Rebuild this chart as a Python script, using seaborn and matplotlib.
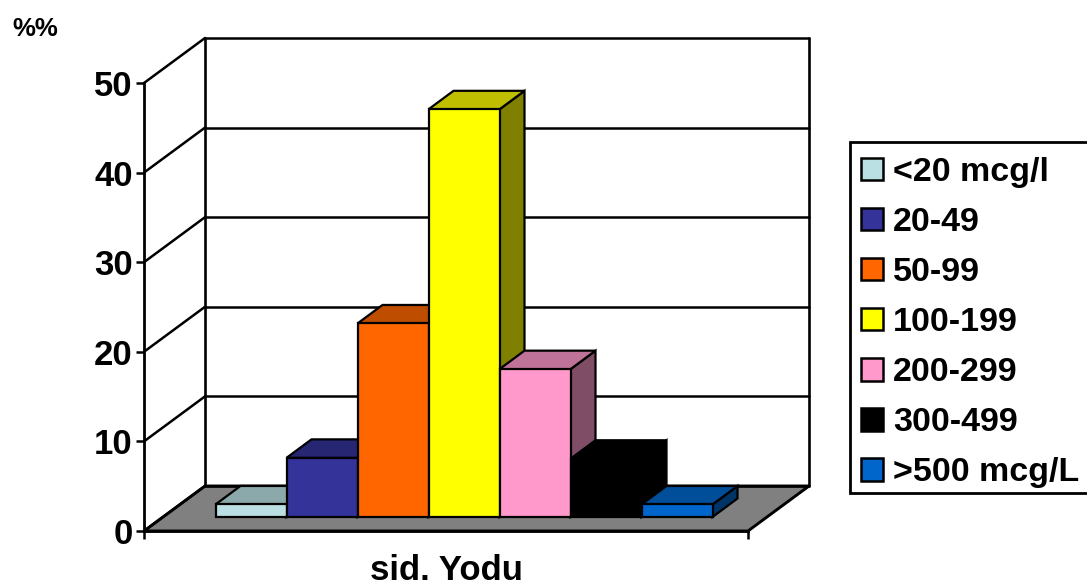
import matplotlib
matplotlib.use("Agg")
import matplotlib.pyplot as plt
from matplotlib.patches import Polygon, Rectangle
import pandas as pd
import seaborn as sns

# Survey values
group = "sid. Yodu"
ranges = ["<20 mcg/l", "20-49", "50-99", "100-199", "200-299", "300-499", ">500 mcg/L"]
values = [1.4, 6.6, 21.6, 45.5, 16.5, 6.5, 1.4]
front_colors = ["#BAE0E3", "#333399", "#FF6600", "#FFFF00", "#FF99CC", "#000000", "#0066CC"]
y_ticks = [0, 10, 20, 30, 40, 50]

W, H = 1087, 584
LINE = "#000000"
FLOOR = "#808080"

sns.set_theme(style="ticks")
plt.rcParams["font.family"] = ["Liberation Sans", "DejaVu Sans"]
plt.rcParams["font.weight"] = "bold"


def shade(color, factor):
    r, g, b = matplotlib.colors.to_rgb(color)
    return (r * factor, g * factor, b * factor)


def px_rect(left, bottom, width, height):
    return [left / W, (H - bottom) / H, width / W, height / H]


fig = plt.figure(figsize=(W / 100, H / 100), dpi=100, facecolor="white")

# Front plane of the box: carries the value axis and the category axis
ax = fig.add_axes(px_rect(144, 531, 604, 448))
ax.set_xlim(0, 1)
ax.set_ylim(0, 50)
ax.patch.set_alpha(0)

wall_dx, wall_dy = 61 / 604, 45 / 448 * 50

# Floor, back wall, gridlines and the left wall's receding lines
ax.add_patch(Polygon([(0, 0), (1, 0), (1 + wall_dx, wall_dy), (wall_dx, wall_dy)],
                     closed=True, facecolor=FLOOR, edgecolor=LINE, linewidth=2.1,
                     clip_on=False, zorder=1))
for t in y_ticks:
    ax.plot([0, wall_dx], [t, t + wall_dy], color=LINE, lw=1.8, clip_on=False, zorder=1.5)
    ax.plot([wall_dx, 1 + wall_dx], [t + wall_dy, t + wall_dy], color=LINE, lw=1.8,
            clip_on=False, zorder=1.5)
ax.plot([wall_dx, wall_dx], [wall_dy, 50 + wall_dy], color=LINE, lw=1.9, clip_on=False, zorder=1.5)
ax.plot([1 + wall_dx, 1 + wall_dx], [wall_dy, 50 + wall_dy], color=LINE, lw=1.9, clip_on=False, zorder=1.5)

ax.set_yticks(y_ticks)
ax.set_xticks([0, 1])
ax.set_xticklabels(["", ""])
ax.tick_params(axis="y", length=5.8, width=1.8, color=LINE, labelsize=25, labelcolor=LINE, pad=2.4)
ax.tick_params(axis="x", length=5.8, width=1.8, color=LINE)
for side in ("top", "right"):
    ax.spines[side].set_visible(False)
for side in ("left", "bottom"):
    ax.spines[side].set_color(LINE)
    ax.spines[side].set_linewidth(2.0)
ax.set_xlabel(group, fontsize=25, fontweight="bold", color=LINE, labelpad=7.5)

# Bars stand a little behind the front edge of the floor
bars_ax = fig.add_axes(px_rect(162, 517, 604, 448), sharey=None)
frame = pd.DataFrame({"group": [group] * len(ranges), "range": ranges, "value": values})
sns.barplot(data=frame, x="group", y="value", hue="range", hue_order=ranges,
            palette=front_colors, saturation=1, width=497 / 604, gap=0, dodge=True,
            edgecolor=LINE, linewidth=1.6, legend=False, ax=bars_ax)
bars_ax.set_xlim(-0.5, 0.5)
bars_ax.set_ylim(0, 50)
bars_ax.axis("off")
bars_ax.patch.set_alpha(0)

depth_x, depth_y = 25 / 604, 18.5 / 448 * 50
bar_patches = [p for c in bars_ax.containers for p in c]
for i, (patch, color) in enumerate(zip(bar_patches, front_colors)):
    x0, w, h = patch.get_x(), patch.get_width(), patch.get_height()
    x1 = x0 + w
    top = [(x0, h), (x1, h), (x1 + depth_x, h + depth_y), (x0 + depth_x, h + depth_y)]
    side = [(x1, 0), (x1 + depth_x, depth_y), (x1 + depth_x, h + depth_y), (x1, h)]
    base_z = 3 + i * 3
    bars_ax.add_patch(Polygon(side, closed=True, facecolor=shade(color, 0.5),
                              edgecolor=LINE, linewidth=1.6, clip_on=False, zorder=base_z))
    bars_ax.add_patch(Polygon(top, closed=True, facecolor=shade(color, 0.75),
                              edgecolor=LINE, linewidth=1.6, clip_on=False, zorder=base_z + 1))
    patch.set_zorder(base_z + 2)
    patch.set_clip_on(False)

# Legend: the frame runs off the right edge of the canvas
fig.add_artist(Rectangle((850 / W, (H - 493) / H), 250 / W, 351 / H, transform=fig.transFigure,
                         facecolor="white", edgecolor=LINE, linewidth=2.0))
handles = [Rectangle((0, 0), 1, 1, facecolor=c, edgecolor=LINE, linewidth=1.8)
           for c in front_colors]
leg = fig.legend(handles, ranges, loc="upper left",
                 bbox_to_anchor=(861 / W, (H - 157) / H), bbox_transform=fig.transFigure,
                 fontsize=24.5, frameon=False,
                 handlelength=0.64, handleheight=0.64, handletextpad=0.3,
                 labelspacing=0.56, borderpad=0, borderaxespad=0, labelcolor=LINE)

fig.text(12 / W, (H - 36) / H, "%%", fontsize=18.5, fontweight="bold", color=LINE)

fig.savefig("out.png", dpi=100, facecolor="white")
